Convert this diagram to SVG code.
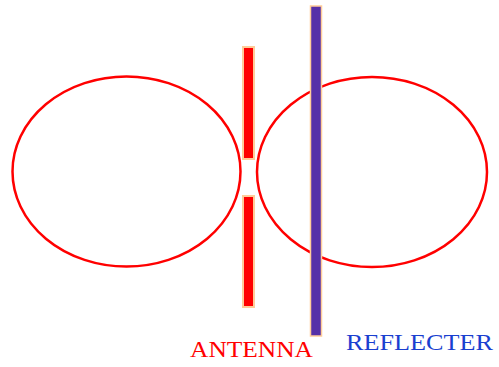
<svg xmlns="http://www.w3.org/2000/svg" width="499" height="367" viewBox="0 0 499 367">
<style>
.lobe{fill:none;stroke:#FF0000;stroke-width:2.5}
.ant{fill:#FF0000;stroke:#FFCC99;stroke-width:2}
.ref{fill:#5530A8;stroke:#FFCC99;stroke-width:1.5}
.lbl{font-family:"Liberation Serif",serif;font-size:23px}
</style>
<rect width="499" height="367" fill="#FFFFFF"/>
<g id="patterns">
<ellipse id="lobe-left" class="lobe" cx="126.5" cy="171.5" rx="114" ry="95"/>
<ellipse id="lobe-right" class="lobe" cx="372" cy="172" rx="115" ry="95"/>
</g>
<g id="antenna">
<rect class="ant" x="243" y="47" width="11" height="112"/>
<rect class="ant" x="243" y="196" width="11" height="111"/>
</g>
<g id="reflector">
<rect class="ref" x="310.5" y="6" width="11" height="330"/>
</g>
<g id="labels">
<text class="lbl" x="190" y="357" fill="#FF0000" textLength="123" lengthAdjust="spacingAndGlyphs">ANTENNA</text>
<text class="lbl" x="346" y="350" fill="#1A3FD0" textLength="147" lengthAdjust="spacingAndGlyphs">REFLECTER</text>
</g>
</svg>
